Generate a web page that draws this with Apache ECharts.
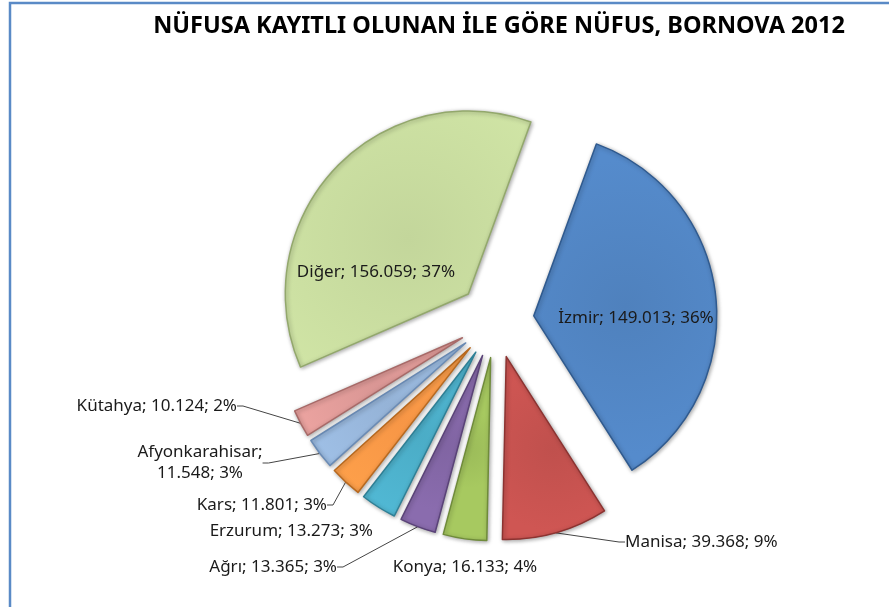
<!DOCTYPE html>
<html>
<head>
<meta charset="utf-8">
<script src="https://cdn.jsdelivr.net/npm/echarts@6/dist/echarts.min.js"></script>
<style>
  html, body { margin: 0; padding: 0; background: #fff; }
  #chart { width: 889px; height: 607px; }
</style>
</head>
<body>
<div id="chart"></div>
<script>
// data
var cities = ['İzmir', 'Manisa', 'Konya', 'Ağrı', 'Erzurum', 'Kars', 'Afyonkarahisar', 'Kütahya', 'Diğer'];
var population = [149013, 39368, 16133, 13365, 13273, 11801, 11548, 10124, 156059];
var percentLabels = ['36%', '9%', '4%', '3%', '3%', '3%', '3%', '2%', '37%'];

var colors = ['#4F81BD', '#C0504D', '#9BBB59', '#8064A2', '#4BACC6', '#F79646', '#95B3D7', '#D99694', '#C3D69B'];
var edgeColors = ['#2f5a8f', '#8c3331', '#6f8b3a', '#5a4378', '#2f8096', '#b8691f', '#6a8bb5', '#a86a68', '#93a86c'];

// where excel put the data labels: [x, y, align]
var labelAnchor = {
  'İzmir': [636, 318, 'center'],
  'Diğer': [376, 272, 'center'],
  'Manisa': [625, 542, 'left'],
  'Konya': [465, 567, 'center'],
  'Ağrı': [337, 567, 'right'],
  'Erzurum': [373, 531, 'right'],
  'Kars': [327, 505, 'right'],
  'Afyonkarahisar': [200, 463, 'center'],
  'Kütahya': [237, 406, 'right']
};
var insideLabel = ['İzmir', 'Diğer'];
var noLine = ['Konya', 'Erzurum'];

var CX = 496, CY = 320, R = 183, START = 70, EXPLODE = 38;

function fmt(n) {
  return String(n).replace(/\B(?=(\d{3})+(?!\d))/g, '.');
}

var total = population.reduce(function (a, b) { return a + b; }, 0);

// exploded pie: one pie series per slice, each moved out along its own mid angle
var series = [];
var before = 0;
cities.forEach(function (name, i) {
  var mid = (START - (before + population[i] / 2) / total * 360) * Math.PI / 180;
  before += population[i];
  var inside = insideLabel.indexOf(name) >= 0;

  var data = cities.map(function (n, j) {
    if (j !== i) {
      return {
        name: n, value: population[j],
        itemStyle: { color: 'rgba(0,0,0,0)', borderWidth: 0, shadowBlur: 0 },
        label: { show: false }, labelLine: { show: false }
      };
    }
    return {
      name: n, value: population[j],
      itemStyle: {
        color: {
          type: 'radial', x: 0.5, y: 0.5, r: 0.8,
          colorStops: [
            { offset: 0, color: colors[j] },
            { offset: 1, color: echarts.color.lift(colors[j], -0.08) }
          ]
        },
        borderColor: edgeColors[j],
        borderWidth: 1.5,
        shadowBlur: 4,
        shadowColor: 'rgba(0,0,0,0.35)',
        shadowOffsetX: 1,
        shadowOffsetY: 1
      },
      label: {
        show: true,
        position: inside ? 'inside' : 'outside',
        formatter: n === 'Afyonkarahisar'
          ? n + ';\n' + fmt(population[j]) + '; ' + percentLabels[j]
          : n + '; ' + fmt(population[j]) + '; ' + percentLabels[j]
      },
      labelLine: { show: !inside && noLine.indexOf(n) < 0 }
    };
  });

  series.push({
    type: 'pie',
    name: name,
    center: [CX + EXPLODE * Math.cos(mid), CY - EXPLODE * Math.sin(mid)],
    radius: R,
    startAngle: START,
    clockwise: true,
    silent: true,
    avoidLabelOverlap: false,
    label: {
      fontFamily: 'Noto Sans',
      fontSize: 17,
      lineHeight: 21,
      color: '#1a1a1a'
    },
    labelLine: {
      length: 10,
      length2: 6,
      lineStyle: { color: '#444', width: 1 }
    },
    labelLayout: function (p) {
      var a = labelAnchor[cities[p.dataIndex]];
      return { x: a[0], y: a[1], align: a[2], verticalAlign: 'middle', hideOverlap: false };
    },
    data: data
  });
});

var chart = echarts.init(document.getElementById('chart'));
chart.setOption({
  animation: false,
  title: {
    text: 'NÜFUSA KAYITLI OLUNAN İLE GÖRE NÜFUS, BORNOVA 2012',
    left: 494,
    textAlign: 'center',
    top: 9,
    textStyle: { fontFamily: 'Noto Sans', fontWeight: 'bold', fontSize: 23.5, color: '#000' }
  },
  graphic: [{
    type: 'rect',
    shape: { x: 10, y: 3, width: 900, height: 700 },
    style: { fill: 'none', stroke: '#5A8AC6', lineWidth: 2.5 },
    silent: true
  }],
  series: series
});
</script>
</body>
</html>
